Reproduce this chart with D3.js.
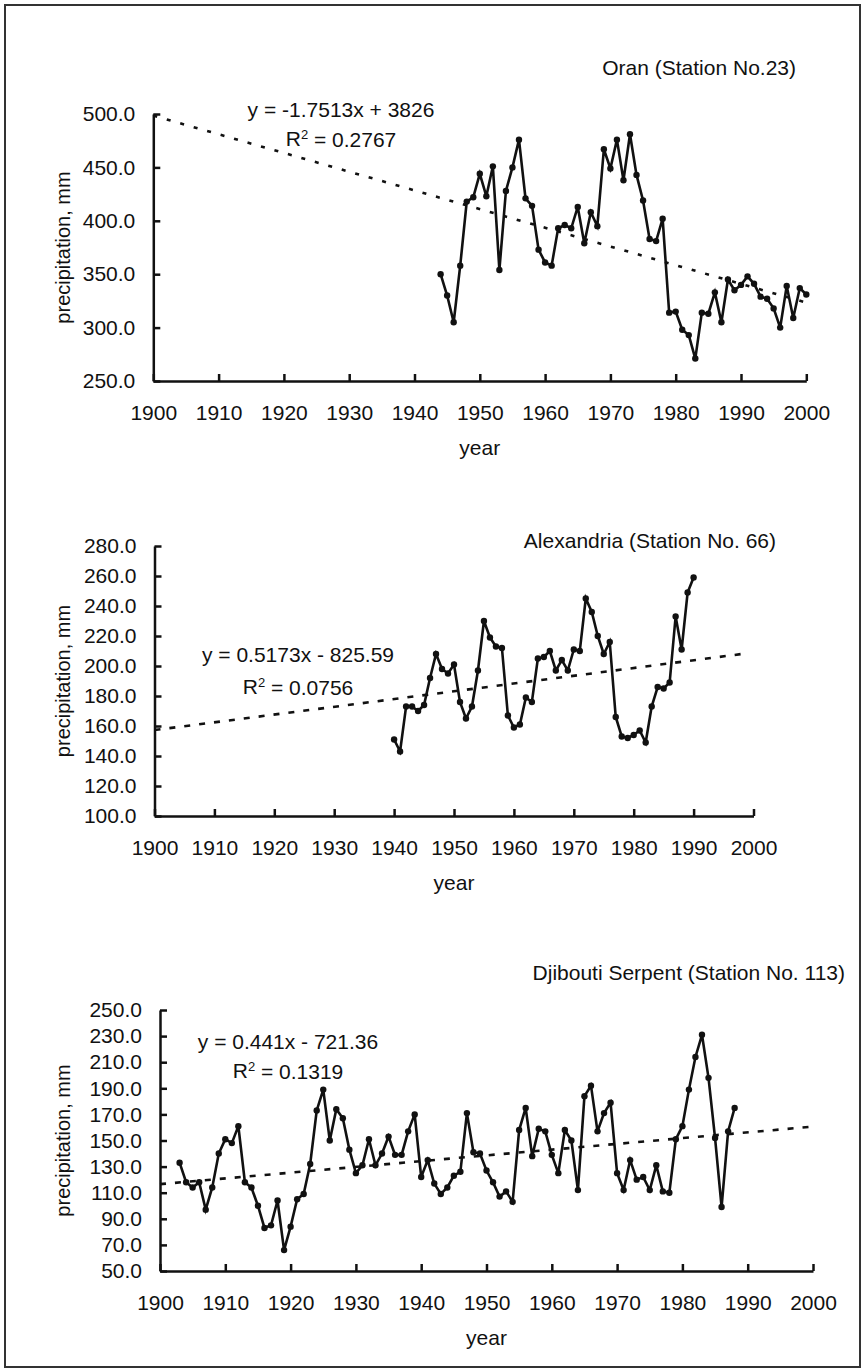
<!DOCTYPE html>
<html>
<head>
<meta charset="utf-8">
<script src="https://cdn.jsdelivr.net/npm/d3@7"></script>
<style>
  html, body { margin: 0; padding: 0; background: #fff; }
  svg { display: block; }
  text { font-family: "Liberation Sans", Arial, sans-serif; fill: #111; }
</style>
</head>
<body>
<svg id="fig" width="864" height="1371"></svg>
<script>
// ---------------- DATA ----------------
const yearTicks = [1900, 1910, 1920, 1930, 1940, 1950, 1960, 1970, 1980, 1990, 2000];

// Oran (Station No.23), 1944-2000
const oranStart = 1944;
const oranValues = [350,330,305,358,418,422,444,423,451,354,428,450,476,421,414,373,361,358,393,396,393,413,379,408,395,467,449,476,438,481,443,419,383,381,402,314,315,298,293,271,314,313,333,305,345,335,340,348,341,329,327,318,300,339,309,337,331];
const oranTicks = [250, 300, 350, 400, 450, 500];
const oranTrend = [-1.7513, 3826];
const oranTrendYears = [1900, 2000];

// Alexandria (Station No. 66), 1940-1990
const alexStart = 1940;
const alexValues = [151,143,173,173,170,174,192,208,198,195,201,176,165,173,197,230,219,213,212,167,159,161,179,176,205,206,210,197,204,197,211,210,245,236,220,208,216,166,153,152,154,157,149,173,186,185,189,233,211,249,259];
const alexTicks = [100, 120, 140, 160, 180, 200, 220, 240, 260, 280];
const alexTrend = [0.5173, -825.59];
const alexTrendYears = [1900, 1998];

// Djibouti Serpent (Station No. 113), 1903-1988
const djibStart = 1903;
const djibValues = [133,118,114,118,97,114,140,151,148,161,118,114,100,83,85,104,66,84,105,109,132,173,189,150,174,167,143,125,131,151,131,140,153,139,139,157,170,122,135,117,109,114,123,126,171,141,140,127,118,107,111,103,158,175,138,159,157,139,125,158,150,112,184,192,157,171,179,125,112,135,120,122,112,131,111,110,151,161,189,214,231,198,152,99,157,175];
const djibTicks = [50, 70, 90, 110, 130, 150, 170, 190, 210, 230, 250];
const djibTrend = [0.441, -721.36];
const djibTrendYears = [1900, 2000];

const titles = ["Oran (Station No.23)", "Alexandria (Station No. 66)", "Djibouti Serpent (Station No. 113)"];
const equations = ["y = -1.7513x + 3826", "y = 0.5173x - 825.59", "y = 0.441x - 721.36"];
const r2Values = ["0.2767", "0.0756", "0.1319"];

// ---------------- LAYOUT ----------------
const layouts = [
  { x0: 153.3, x1: 806.3, yTop: 114, yBot: 381, titleX: 796, titleY: 68, eqX: 341, eqY: 110, r2Y: 139, labX: 63, dash: "4,10" },
  { x0: 154.5, x1: 753.5, yTop: 546, yBot: 816, titleX: 776, titleY: 541, eqX: 298, eqY: 655, r2Y: 687, labX: 63, dash: "6,9" },
  { x0: 160,   x1: 813,   yTop: 1010, yBot: 1271, titleX: 845, titleY: 973, eqX: 288, eqY: 1042, r2Y: 1071, labX: 63, dash: "6,9" }
];

const series = [
  { start: oranStart, values: oranValues, ticks: oranTicks, trend: oranTrend, trendYears: oranTrendYears },
  { start: alexStart, values: alexValues, ticks: alexTicks, trend: alexTrend, trendYears: alexTrendYears },
  { start: djibStart, values: djibValues, ticks: djibTicks, trend: djibTrend, trendYears: djibTrendYears }
];

const svg = d3.select("#fig");
const FS = 21;
const ink = "#111";

// outer frame
svg.append("rect").attr("x", 5).attr("y", 5).attr("width", 855).attr("height", 1362)
  .attr("fill", "none").attr("stroke", "#333").attr("stroke-width", 2);

series.forEach((s, i) => {
  const L = layouts[i];
  const g = svg.append("g");
  const x = d3.scaleLinear().domain([1900, 2000]).range([L.x0, L.x1]);
  const y = d3.scaleLinear().domain([d3.min(s.ticks), d3.max(s.ticks)]).range([L.yBot, L.yTop]);

  // axes
  const xAxis = d3.axisBottom(x).tickValues(yearTicks).tickFormat(d3.format("d"))
    .tickSizeInner(-7).tickSizeOuter(0).tickPadding(24);
  const yAxis = d3.axisLeft(y).tickValues(s.ticks).tickFormat(d3.format(".1f"))
    .tickSizeInner(-7).tickSizeOuter(0).tickPadding(18);

  const gx = g.append("g").attr("transform", `translate(0,${L.yBot})`).call(xAxis);
  const gy = g.append("g").attr("transform", `translate(${L.x0},0)`).call(yAxis);
  [gx, gy].forEach(a => {
    a.selectAll("path, line").attr("stroke", ink).attr("stroke-width", 2.5);
    a.selectAll("text").attr("font-size", FS).attr("fill", ink)
      .style("font-family", '"Liberation Sans", Arial, sans-serif');
  });

  // axis titles
  g.append("text").attr("x", (L.x0 + L.x1) / 2).attr("y", L.yBot + 67).attr("dy", "0.35em")
    .attr("text-anchor", "middle").attr("font-size", FS).text("year");
  g.append("text").attr("transform", `translate(${L.labX},${(L.yTop + L.yBot) / 2}) rotate(-90)`)
    .attr("dy", "0.35em").attr("text-anchor", "middle").attr("font-size", 20).text("precipitation, mm");

  // chart title
  g.append("text").attr("x", L.titleX).attr("y", L.titleY).attr("dy", "0.35em")
    .attr("text-anchor", "end").attr("font-size", FS).text(titles[i]);

  // trend line
  const tPts = s.trendYears.map(yr => [yr, s.trend[0] * yr + s.trend[1]]);
  g.append("path").datum(tPts)
    .attr("d", d3.line().x(d => x(d[0])).y(d => y(d[1])))
    .attr("fill", "none").attr("stroke", ink).attr("stroke-width", 2.6)
    .attr("stroke-dasharray", L.dash);

  // data line + markers
  const pts = s.values.map((v, k) => [s.start + k, v]);
  g.append("path").datum(pts)
    .attr("d", d3.line().x(d => x(d[0])).y(d => y(d[1])))
    .attr("fill", "none").attr("stroke", ink).attr("stroke-width", 2.6).attr("stroke-linejoin", "miter");
  g.selectAll("circle.pt").data(pts).enter().append("circle").attr("class", "pt")
    .attr("cx", d => x(d[0])).attr("cy", d => y(d[1])).attr("r", 3.2).attr("fill", ink);

  // equation + R^2
  g.append("text").attr("x", L.eqX).attr("y", L.eqY).attr("dy", "0.35em")
    .attr("text-anchor", "middle").attr("font-size", FS).text(equations[i]);
  const r2 = g.append("text").attr("x", L.eqX).attr("y", L.r2Y).attr("dy", "0.35em")
    .attr("text-anchor", "middle").attr("font-size", FS);
  r2.append("tspan").text("R");
  r2.append("tspan").attr("font-size", 13).attr("dy", "-0.55em").text("2");
  r2.append("tspan").attr("dy", "0.35em").text(" = " + r2Values[i]);
});
</script>
</body>
</html>
